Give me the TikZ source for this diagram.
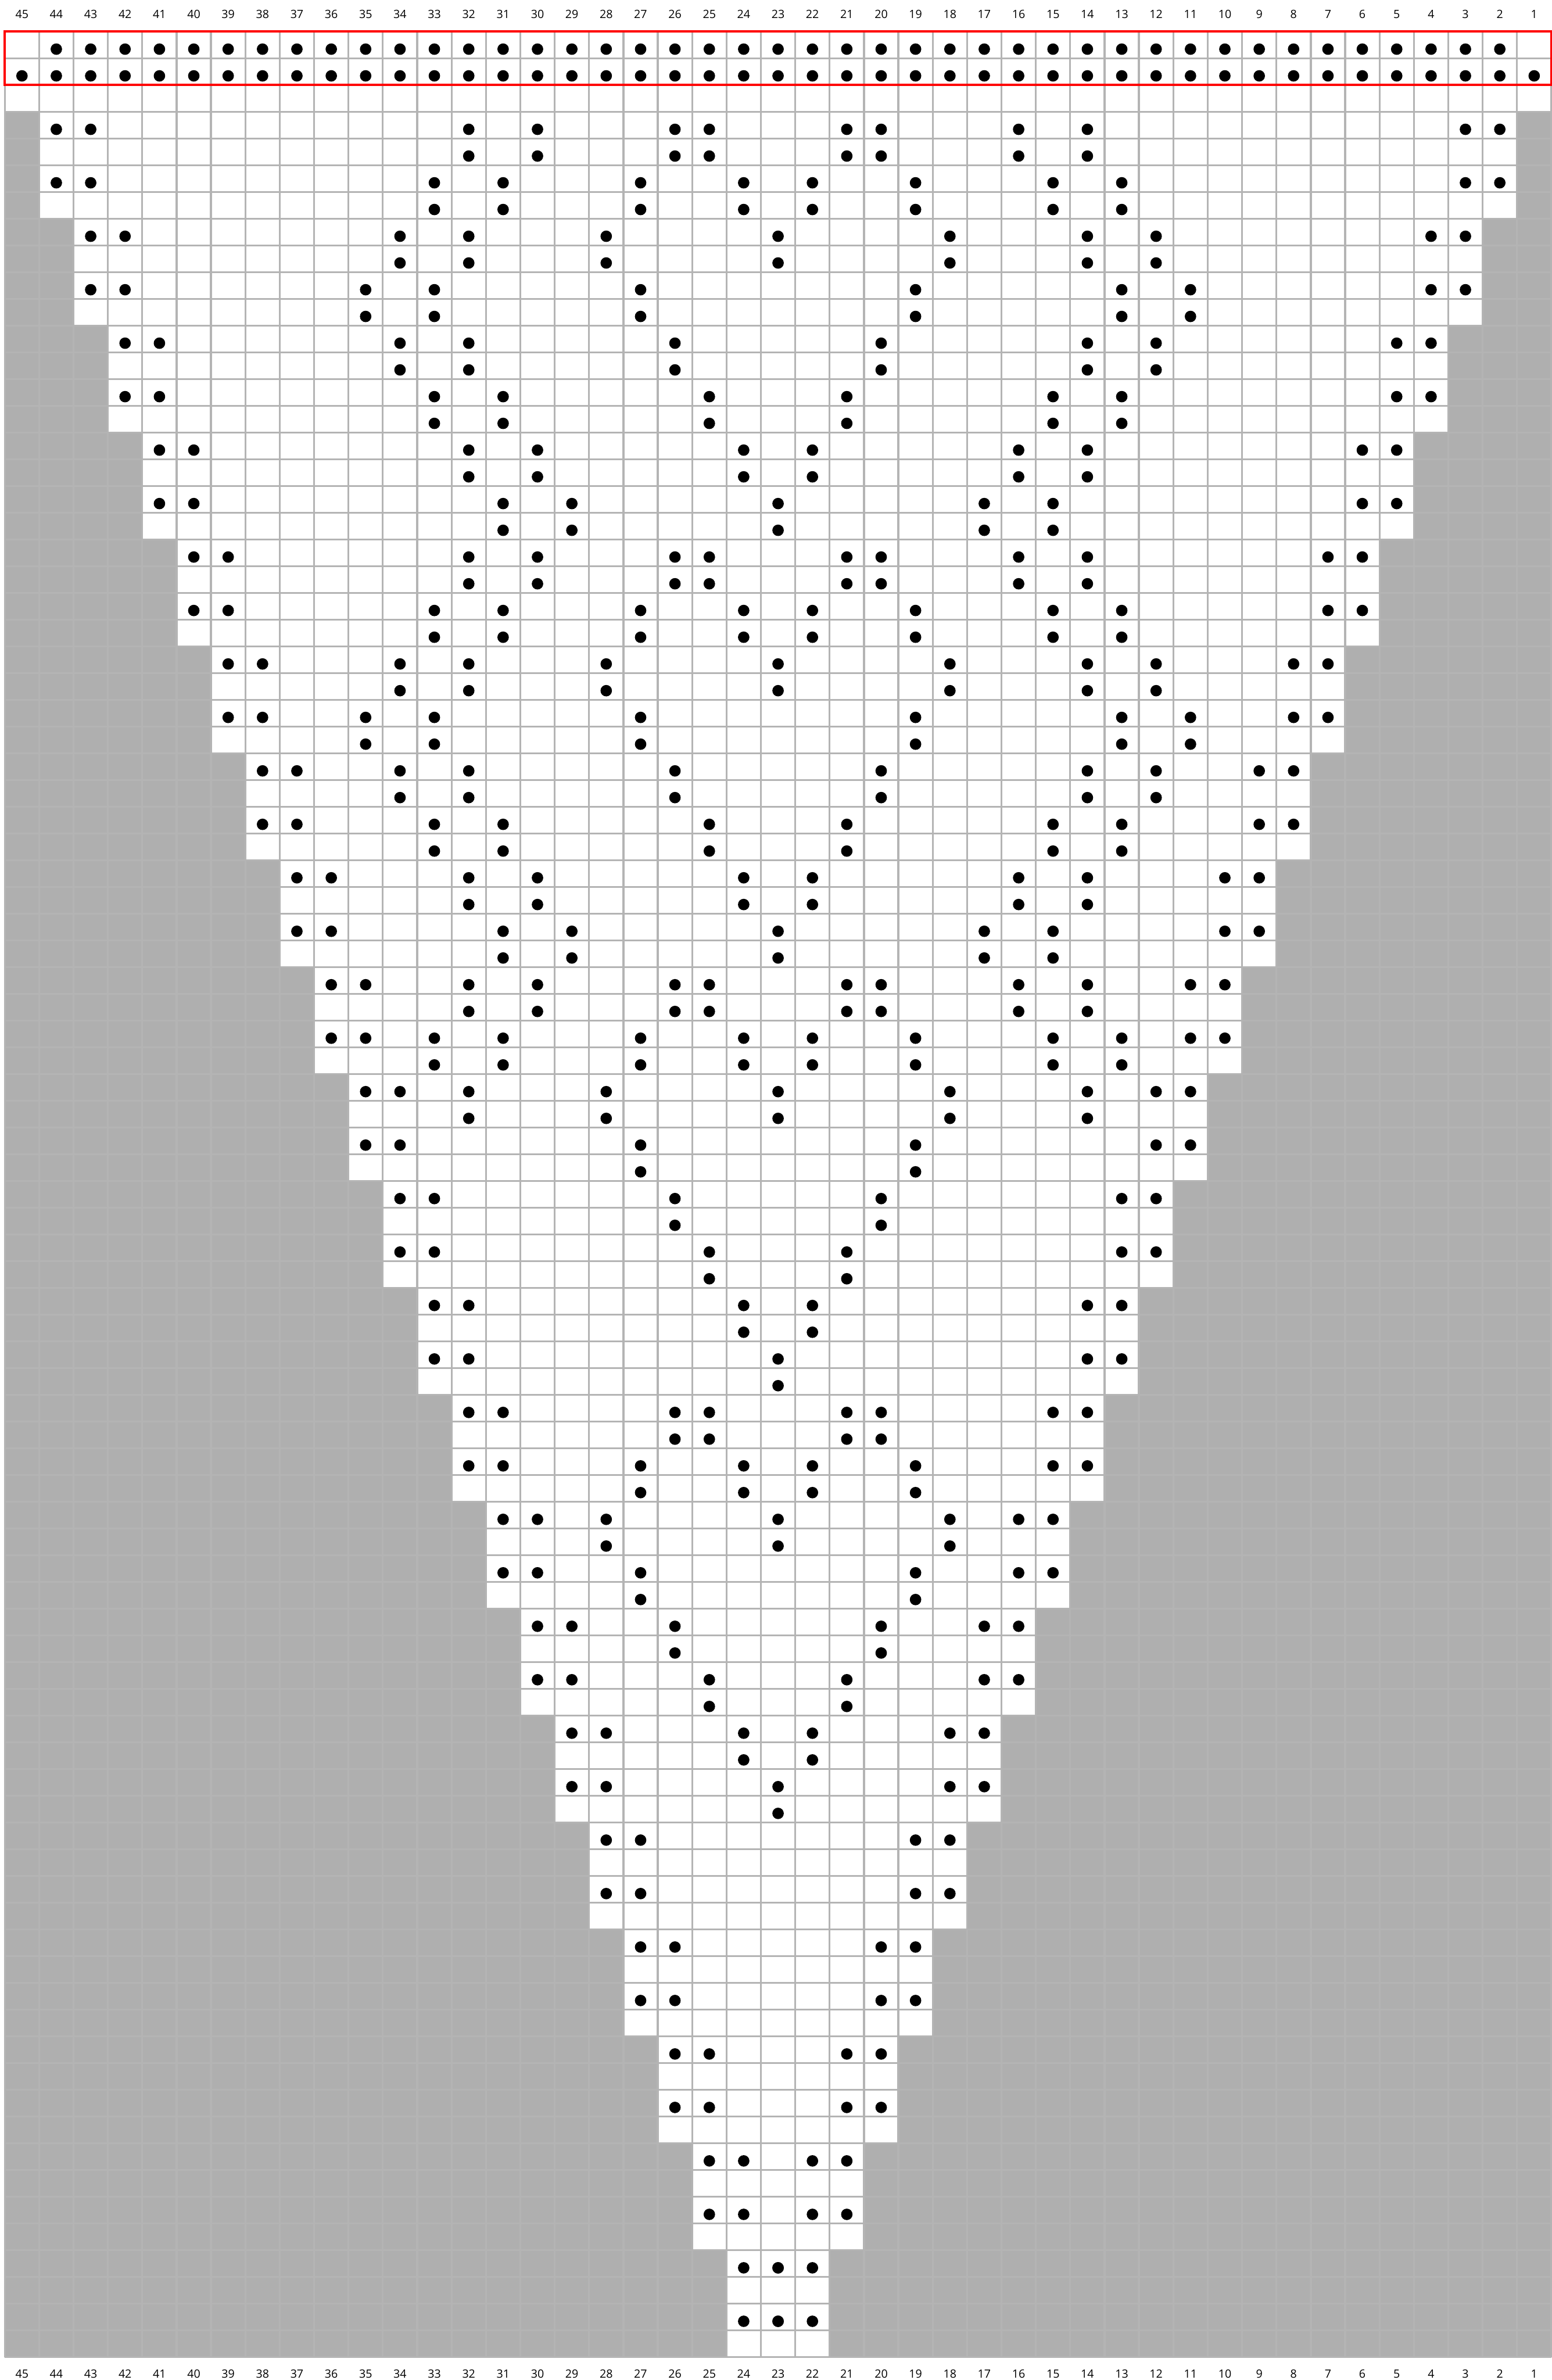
\documentclass[tikz,border=0pt]{standalone}
\usepackage{fontspec}
\setmainfont{Open Sans}
\usepackage{xcolor}
\definecolor{shade}{RGB}{175,175,175}
\definecolor{gridgray}{RGB}{180,180,180}
\definecolor{ink}{RGB}{0,0,0}
\definecolor{redline}{RGB}{255,0,0}
\usepackage{tikz}
\tikzset{
  cellgrid/.style={draw=gridgray, line width=0.04cm},
  shadecell/.style={fill=shade},
  stitch/.style={fill=ink},
  repeatbox/.style={draw=redline, line width=0.045cm},
  collabel/.style={font=\fontsize{6.8}{8}\selectfont, text=black, inner sep=0pt},
}
\newcommand{\stitchdot}[2]{\fill[stitch] (#1+0.5,#2+0.66) circle[radius=0.12cm];}

\begin{document}
\begin{tikzpicture}
\useasboundingbox (0,0) rectangle (32.51,-49.86);
\fill[white] (0,0) rectangle (32.51,-49.86);
\begin{scope}[shift={(0.10,-0.66)}, x=0.72cm, y=-0.56cm]
  \foreach \b in {1,...,21}{
    \fill[shadecell] (0,4*\b-1) rectangle (\b,4*\b+3);
    \fill[shadecell] (45-\b,4*\b-1) rectangle (45,4*\b+3);
  }
  \foreach \i in {0,...,45} {\draw[cellgrid] (\i,0) -- (\i,87);}
  \foreach \j in {0,...,87} {\draw[cellgrid] (0,\j) -- (45,\j);}
  % top two rows
  \foreach \i in {1,...,43} {\stitchdot{\i}{0}}
  \foreach \i in {0,...,44} {\stitchdot{\i}{1}}
  % edge pairs
  \foreach \b in {1,...,21}{
    \foreach \r in {4*\b-1,4*\b+1}{
      \foreach \i in {\b,\b+1,43-\b,44-\b} {\stitchdot{\i}{\r}}
    }
  }
  % inner motif, each row worked twice
  \foreach \b/\rowa/\rowb in {
      1/{32,30,26,25,21,20,16,14}/{33,31,27,24,22,19,15,13},
      2/{34,32,28,23,18,14,12}/{35,33,27,19,13,11},
      3/{34,32,26,20,14,12}/{33,31,25,21,15,13},
      4/{32,30,24,22,16,14}/{31,29,23,17,15},
      5/{32,30,26,25,21,20,16,14}/{33,31,27,24,22,19,15,13},
      6/{34,32,28,23,18,14,12}/{35,33,27,19,13,11},
      7/{34,32,26,20,14,12}/{33,31,25,21,15,13},
      8/{32,30,24,22,16,14}/{31,29,23,17,15},
      9/{32,30,26,25,21,20,16,14}/{33,31,27,24,22,19,15,13},
      10/{32,28,23,18,14}/{27,19},
      11/{26,20}/{25,21},
      12/{24,22}/{23},
      13/{26,25,21,20}/{27,24,22,19},
      14/{28,23,18}/{27,19},
      15/{26,20}/{25,21},
      16/{24,22}/{23}}{
    \foreach \c in \rowa {\stitchdot{45-\c}{4*\b-1}\stitchdot{45-\c}{4*\b}}
    \foreach \c in \rowb {\stitchdot{45-\c}{4*\b+1}\stitchdot{45-\c}{4*\b+2}}
  }
  \draw[repeatbox] (0,0) rectangle (45,2);
  \foreach \c in {1,...,45}{
    \node[collabel] (top\c) at (45-\c+0.5,-0.643) {\c};
    \node[collabel] (bot\c) at (45-\c+0.5,87.63) {\c};
  }
\end{scope}
\end{tikzpicture}
\end{document}
